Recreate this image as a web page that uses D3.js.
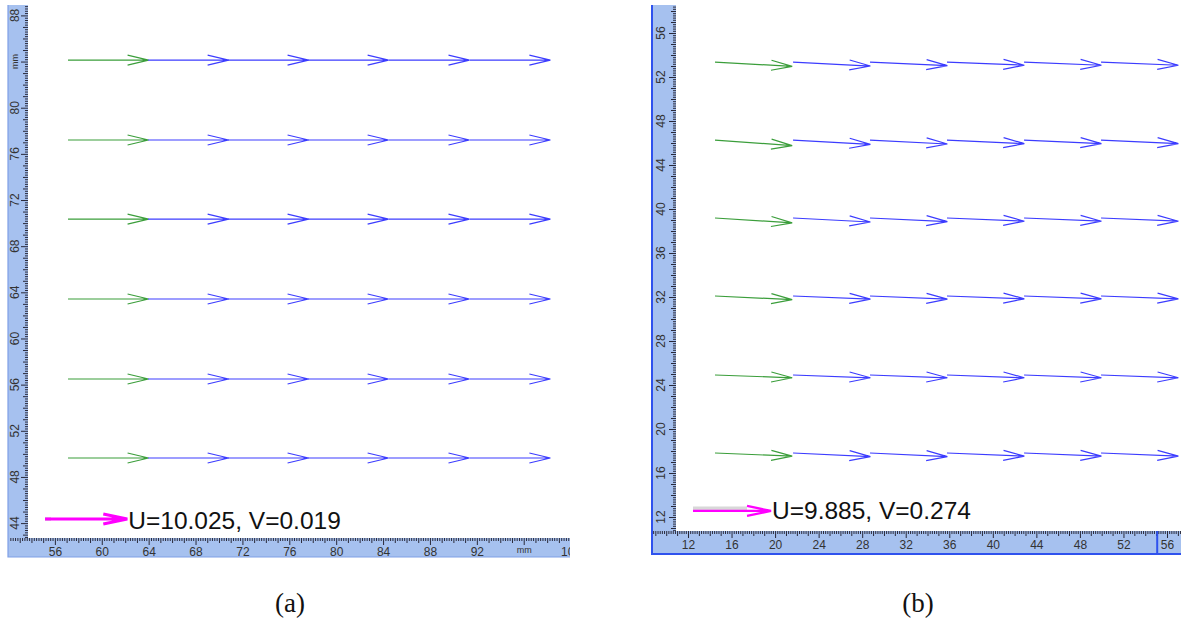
<!DOCTYPE html>
<html>
<head>
<meta charset="utf-8">
<script src="https://cdn.jsdelivr.net/npm/d3@7"></script>
<style>
  body { margin: 0; background: #fff; }
  svg { display: block; }
  .ruler text { font-family: 'Liberation Sans', Arial, sans-serif; font-size: 12px; fill: #333; }
  .legend { font-family: 'Liberation Sans', Arial, sans-serif; font-size: 24.5px; fill: #111; }
  .caption { font-family: 'Liberation Serif', 'Times New Roman', serif; font-size: 27px; fill: #111; }
</style>
</head>
<body>
<div class="chart_container"></div>
<script>
'use strict';

// (a) grid of vector tails, mm
const colsA = [57.12, 63.95, 70.77, 77.6, 84.5, 91.4];
const rowsA = [84.13, 77.2, 70.35, 63.42, 56.49, 49.64];
// U / V per row (first column is the green one)
const uA = [
  [9.82, 9.82, 9.82, 9.82, 9.82, 9.82],
  [9.82, 9.82, 9.82, 9.82, 9.82, 9.82],
  [9.82, 9.82, 9.82, 9.82, 9.82, 9.82],
  [9.82, 9.82, 9.82, 9.82, 9.82, 9.82],
  [9.82, 9.82, 9.82, 9.82, 9.82, 9.82],
  [9.82, 9.82, 9.82, 9.82, 9.82, 9.82]
];
const vA = [
  [0, 0, 0, 0, 0, 0],
  [0, 0, 0, 0, 0, 0],
  [0, 0, 0, 0, 0, 0],
  [0, 0, 0, 0, 0, 0],
  [0, 0, 0, 0, 0, 0],
  [0, 0, 0, 0, 0, 0]
];
const xTicksA = [56, 60, 64, 68, 72, 76, 80, 84, 88, 92, 96, 100];
const xLabelsA = ['56', '60', '64', '68', '72', '76', '80', '84', '88', '92', 'mm', '100'];
const yTicksA = [44, 48, 52, 56, 60, 64, 68, 72, 76, 80, 84, 88];
const yLabelsA = ['44', '48', '52', '56', '60', '64', '68', '72', '76', '80', 'mm', '88'];
const refA = { x: 55.16, y: 44.36, u: 10.025, v: 0.019 };

// (b)
const colsB = [14.48, 21.65, 28.72, 35.79, 42.87, 49.94];
const rowsB = [53.36, 46.27, 39.18, 32.09, 24.91, 17.82];
const uB = [
  [9.78, 9.8, 9.8, 9.8, 9.8, 9.8],
  [9.78, 9.8, 9.8, 9.8, 9.8, 9.8],
  [9.78, 9.8, 9.8, 9.8, 9.8, 9.8],
  [9.78, 9.8, 9.8, 9.8, 9.8, 9.8],
  [9.78, 9.8, 9.8, 9.8, 9.8, 9.8],
  [9.78, 9.8, 9.8, 9.8, 9.8, 9.8]
];
const vB = [
  [-0.55, -0.5, -0.45, -0.4, -0.4, -0.4],
  [-0.7, -0.55, -0.5, -0.45, -0.45, -0.45],
  [-0.6, -0.5, -0.45, -0.4, -0.4, -0.4],
  [-0.45, -0.4, -0.4, -0.35, -0.35, -0.35],
  [-0.35, -0.35, -0.35, -0.35, -0.35, -0.35],
  [-0.4, -0.45, -0.45, -0.4, -0.4, -0.4]
];
const xTicksB = [12, 16, 20, 24, 28, 32, 36, 40, 44, 48, 52, 56];
const yTicksB = [12, 16, 20, 24, 28, 32, 36, 40, 44, 48, 52, 56];
const refB = { x: 12.46, y: 12.55, u: 9.885, v: 0.274 };

const width = 1181,
  height = 621;

const svg = d3.select('.chart_container')
  .append('svg')
  .attr('width', width)
  .attr('height', height);

const panels = [
  {
    id: 'a', cols: colsA, rows: rowsA, u: uA, v: vA, ref: refA, k: 0.7,
    x: d3.scaleLinear().domain([52, 100]).range([8, 570.6]),
    y: d3.scaleLinear().domain([88, 44]).range([15.4, 523.1]),
    vRuler: { x0: 8, x1: 28, y0: 5, y1: 557 },
    hRuler: { x0: 8, x1: 570, y0: 538, y1: 557 },
    xTicks: xTicksA, xLabels: xLabelsA, yTicks: yTicksA, yLabels: yLabelsA,
    band: '#a6c1ef', edge: '#7f9fe6', edgeWidth: 1.2,
    refWidth: 3, caption: '(a)', captionX: 290
  },
  {
    id: 'b', cols: colsB, rows: rowsB, u: uB, v: vB, ref: refB, k: 0.725,
    x: d3.scaleLinear().domain([12, 56]).range([688, 1167]),
    y: d3.scaleLinear().domain([56, 12]).range([33, 517]),
    vRuler: { x0: 652, x1: 676, y0: 5, y1: 554 },
    hRuler: { x0: 652, x1: 1181, y0: 531, y1: 554 },
    xTicks: xTicksB, xLabels: xTicksB.map(String), yTicks: yTicksB, yLabels: yTicksB.map(String),
    band: '#a6c1ef', edge: '#2f52ee', edgeWidth: 2,
    refWidth: 2.2, caption: '(b)', captionX: 918, marker: 55.1
  }
];

// minor ticks every 0.2 mm, medium every 1 mm
const minorVals = (lo, hi) => d3.range(Math.ceil(lo * 5), Math.floor(hi * 5) + 1).map(i => i / 5);

function arrowPath(x0, y0, x1, y1, headLen, headHalf) {
  const ang = Math.atan2(y1 - y0, x1 - x0);
  const c = Math.cos(ang), s = Math.sin(ang);
  const bx = x1 - headLen * c, by = y1 - headLen * s;
  const p = d3.path();
  p.moveTo(x0, y0);
  p.lineTo(x1, y1);
  p.moveTo(bx - headHalf * s, by + headHalf * c);
  p.lineTo(x1, y1);
  p.lineTo(bx + headHalf * s, by - headHalf * c);
  return p.toString();
}

panels.forEach(P => {
  const g = svg.append('g').attr('id', 'panel-' + P.id);

  // rulers
  const ruler = g.append('g').attr('class', 'ruler');
  const vr = P.vRuler, hr = P.hRuler;

  ruler.append('rect')
    .attr('x', vr.x0).attr('y', vr.y0)
    .attr('width', vr.x1 - vr.x0).attr('height', vr.y1 - vr.y0)
    .attr('fill', P.band);
  ruler.append('rect')
    .attr('x', hr.x0).attr('y', hr.y0)
    .attr('width', hr.x1 - hr.x0).attr('height', hr.y1 - hr.y0)
    .attr('fill', P.band);

  svg.append('clipPath').attr('id', 'clipH' + P.id)
    .append('rect')
    .attr('x', hr.x0 + 1).attr('y', hr.y0)
    .attr('width', hr.x1 - hr.x0 - 1).attr('height', hr.y1 - hr.y0);
  svg.append('clipPath').attr('id', 'clipV' + P.id)
    .append('rect')
    .attr('x', vr.x0).attr('y', vr.y0)
    .attr('width', vr.x1 - vr.x0).attr('height', hr.y0 - vr.y0);

  // horizontal ruler
  const xLo = P.x.invert(hr.x0), xHi = P.x.invert(hr.x1);
  const hAxisG = ruler.append('g').attr('clip-path', `url(#clipH${P.id})`)
    .append('g')
    .attr('transform', `translate(0, ${hr.y0})`);
  const xMinor = minorVals(xLo, xHi);
  hAxisG.append('g')
    .call(d3.axisBottom(P.x).tickValues(xMinor.filter(v => Math.abs(v - Math.round(v)) > 1e-6)).tickSize(3).tickFormat(''));
  hAxisG.append('g')
    .call(d3.axisBottom(P.x).tickValues(d3.range(Math.ceil(xLo), Math.floor(xHi) + 1).filter(v => v % 4 !== 0)).tickSize(5).tickFormat(''));
  hAxisG.append('g')
    .call(d3.axisBottom(P.x).tickValues(P.xTicks).tickSize(7).tickPadding(2).tickFormat((d, i) => P.xLabels[i]));
  hAxisG.selectAll('.domain').remove();
  hAxisG.selectAll('.tick line').attr('stroke', '#2a2a3a');
  hAxisG.selectAll('.tick text')
    .attr('fill', '#333')
    .style('font-size', d => (P.xLabels[P.xTicks.indexOf(d)] === 'mm' ? '9px' : '12px'))
    .attr('font-family', 'Liberation Sans, Arial, sans-serif');

  // vertical ruler
  const yLo = P.y.invert(hr.y0), yHi = P.y.invert(vr.y0);
  const vAxisG = ruler.append('g').attr('clip-path', `url(#clipV${P.id})`)
    .append('g')
    .attr('transform', `translate(${vr.x1}, 0)`);
  const yMinor = minorVals(yLo, yHi);
  vAxisG.append('g')
    .call(d3.axisLeft(P.y).tickValues(yMinor.filter(v => Math.abs(v - Math.round(v)) > 1e-6)).tickSize(3).tickFormat(''));
  vAxisG.append('g')
    .call(d3.axisLeft(P.y).tickValues(d3.range(Math.ceil(yLo), Math.floor(yHi) + 1).filter(v => v % 4 !== 0)).tickSize(5).tickFormat(''));
  vAxisG.append('g')
    .call(d3.axisLeft(P.y).tickValues(P.yTicks).tickSize(7).tickFormat(''));
  vAxisG.selectAll('.domain').remove();
  vAxisG.selectAll('.tick line').attr('stroke', '#2a2a3a');

  const labelX = (vr.x0 + vr.x1) / 2 - 3;
  ruler.append('g').attr('clip-path', `url(#clipV${P.id})`)
    .selectAll('text')
    .data(P.yTicks)
    .enter()
    .append('text')
    .attr('transform', d => `translate(${labelX}, ${P.y(d)}) rotate(-90)`)
    .attr('text-anchor', 'middle')
    .attr('dy', '0.35em')
    .style('font-size', (d, i) => (P.yLabels[i] === 'mm' ? '9px' : '12px'))
    .text((d, i) => P.yLabels[i]);

  // ruler edges
  ruler.append('path')
    .attr('d', `M${vr.x0},${vr.y0}V${hr.y1}H${hr.x1}`)
    .attr('fill', 'none')
    .attr('stroke', P.edge)
    .attr('stroke-width', P.edgeWidth);

  if (P.marker) {
    ruler.append('line')
      .attr('x1', P.x(P.marker)).attr('x2', P.x(P.marker))
      .attr('y1', hr.y0).attr('y2', hr.y1)
      .attr('stroke', P.edge)
      .attr('stroke-width', 2);
  }

  // vectors
  const vectors = [];
  P.rows.forEach((ry, i) => {
    P.cols.forEach((cx, j) => {
      vectors.push({ x: cx, y: ry, u: P.u[i][j], v: P.v[i][j], edge: j === 0 });
    });
  });

  g.append('g')
    .selectAll('path')
    .data(vectors)
    .enter()
    .append('path')
    .attr('d', d => arrowPath(P.x(d.x), P.y(d.y), P.x(d.x + d.u * P.k), P.y(d.y + d.v * P.k), 21, 5))
    .attr('fill', 'none')
    .attr('stroke', d => (d.edge ? '#3b9e3b' : '#3c3cff'))
    .attr('stroke-width', 1.2);

  // reference vector
  const r = P.ref;
  const rx0 = P.x(r.x), ry0 = P.y(r.y), rx1 = P.x(r.x + r.u * P.k);
  const leg = g.append('g');
  leg.append('line')
    .attr('x1', rx0).attr('x2', P.id === 'b' ? rx1 - 24 : rx0 + 6)
    .attr('y1', ry0 - (P.id === 'b' ? 2 : 0)).attr('y2', ry0 - (P.id === 'b' ? 2 : 0))
    .attr('stroke', '#d8d8d8')
    .attr('stroke-width', P.id === 'b' ? 5 : 4);
  leg.append('path')
    .attr('d', arrowPath(rx0, ry0, rx1, ry0, 24, 5))
    .attr('fill', 'none')
    .attr('stroke', '#ff00ff')
    .attr('stroke-width', P.refWidth);
  leg.append('text')
    .attr('class', 'legend')
    .attr('x', rx1 + 1)
    .attr('y', ry0 + (P.id === 'a' ? 10 : 8))
    .text(`U=${r.u}, V=${r.v}`);

  svg.append('text')
    .attr('class', 'caption')
    .attr('x', P.captionX)
    .attr('y', 612)
    .attr('text-anchor', 'middle')
    .text(P.caption);
});
</script>
</body>
</html>
